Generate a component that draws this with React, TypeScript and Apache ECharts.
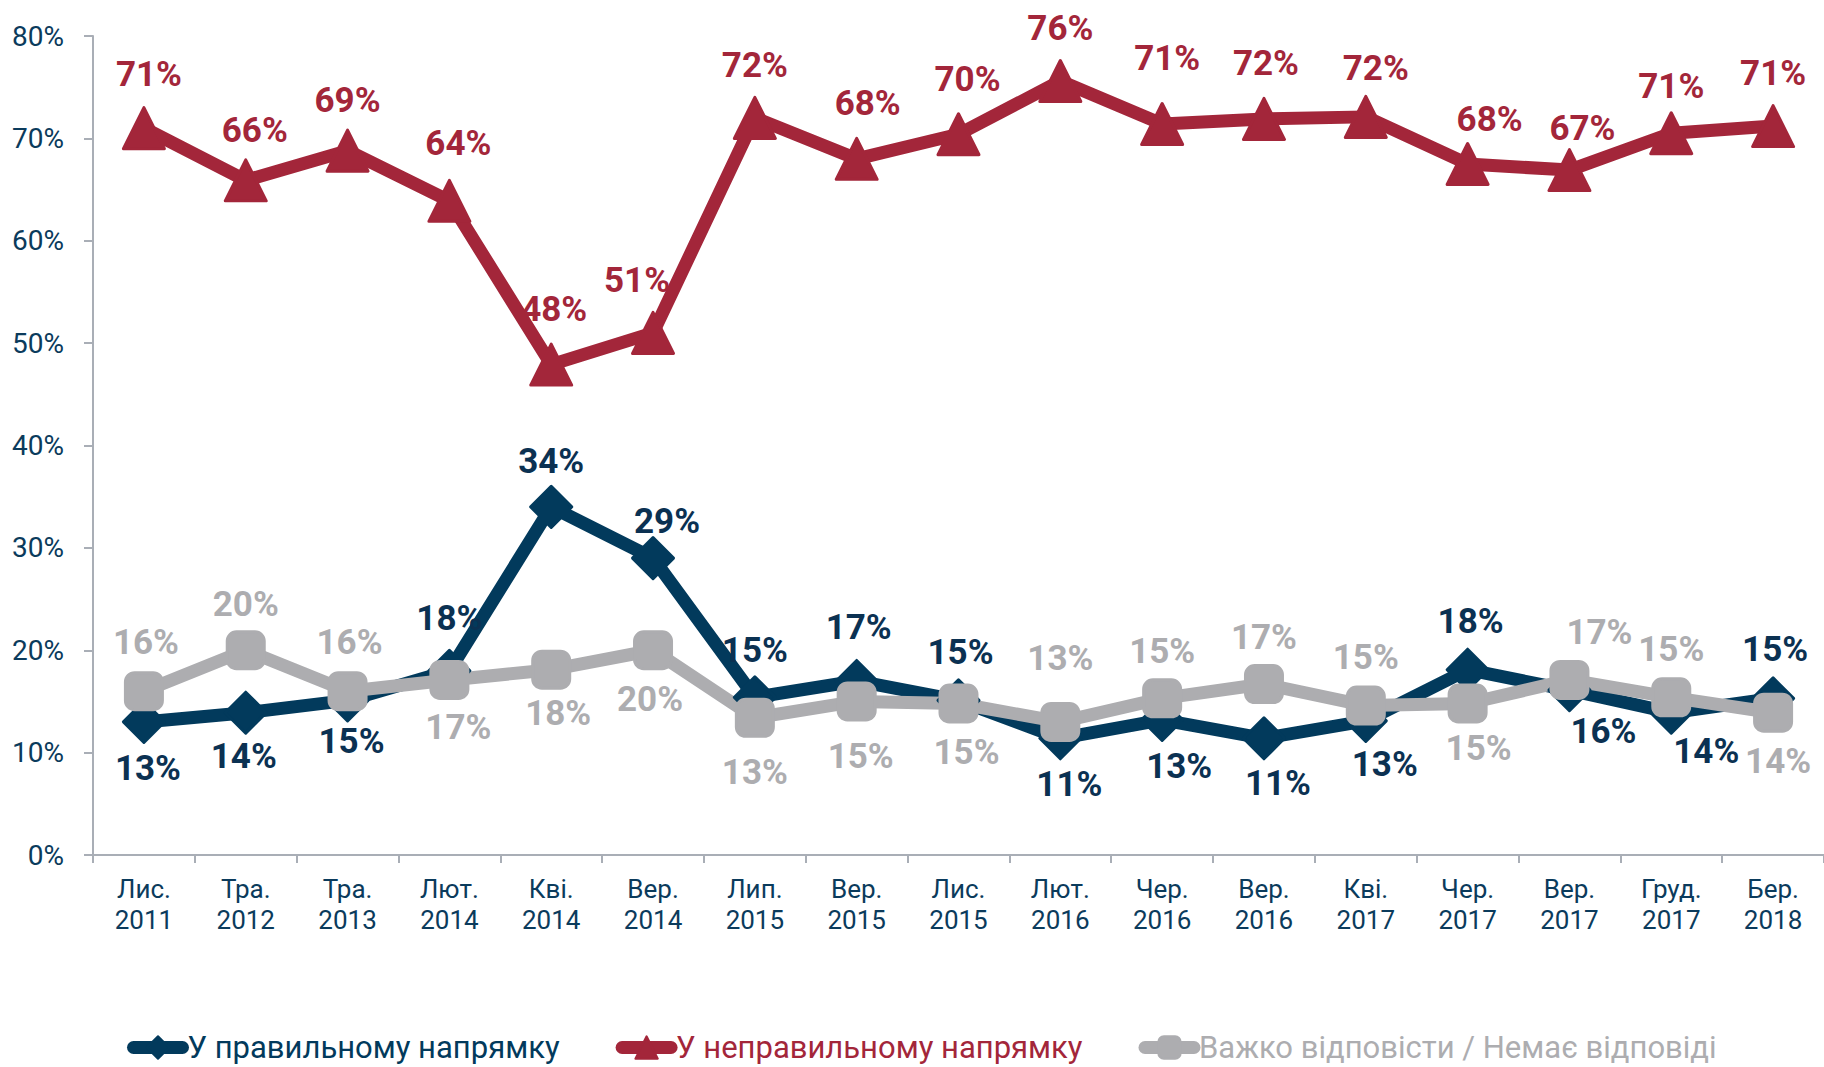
import React, { useEffect, useRef } from "react";
import * as echarts from "echarts";

const categories = [
  "Лис.\n2011", "Тра.\n2012", "Тра.\n2013", "Лют.\n2014", "Кві.\n2014", "Вер.\n2014",
  "Лип.\n2015", "Вер.\n2015", "Лис.\n2015", "Лют.\n2016", "Чер.\n2016", "Вер.\n2016",
  "Кві.\n2017", "Чер.\n2017", "Вер.\n2017", "Груд.\n2017", "Бер.\n2018",
];

const rightDirection = [13.0, 13.9, 15.1, 18.0, 34.0, 29.0, 15.4, 17.0, 15.1, 11.4, 13.2, 11.4, 13.1, 18.1, 16.1, 13.9, 15.3];
const wrongDirection = [71.0, 65.9, 68.8, 63.9, 47.9, 51.0, 72.0, 68.0, 70.4, 75.6, 71.4, 71.9, 72.1, 67.5, 66.9, 70.5, 71.2];
const hardToSay = [16.0, 20.0, 16.0, 17.1, 18.1, 20.0, 13.4, 15.0, 14.8, 13.0, 15.3, 16.7, 14.6, 14.8, 17.1, 15.4, 13.9];

const seriesNames = ["У правильному напрямку", "У неправильному напрямку", "Важко відповісти / Немає відповіді"];

const yTicks = { min: 0, max: 80, interval: 10 };

// label placement (style only): [dx, dy] from the marker centre
const rightLabelOffsets = [
  [4, 47], [-2, 44], [4, 41], [0, -52], [0, -45], [14, -37], [0, -47], [2, -53], [2, -48],
  [9, 46], [17, 47], [14, 45], [19, 44], [3, -48], [34, 41], [35, 39], [2, -49],
];
const wrongLabelOffsets = [
  [5, -54], [9, -50], [0, -50], [9, -57], [3, -55], [-16, -52], [0, -52], [11, -55], [9, -55],
  [0, -53], [5, -66], [2, -55], [10, -48], [22, -44], [13, -42], [0, -47], [0, -53],
];
const hardLabelOffsets = [
  [2, -49], [0, -46], [2, -49], [9, 48], [7, 44], [-3, 49], [0, 55], [4, 55], [8, 49],
  [0, -63], [0, -47], [0, -47], [0, -48], [11, 45], [30, -47], [0, -48], [5, 49],
];

const BLUE = "#023a5c";
const BLUE_TEXT = "#0b3152";
const RED = "#a3263a";
const GREY = "#adadb0";
const AXIS_TEXT = "#0b3b5c";
const AXIS_LINE = "#a9aeb6";
const FONT = "Roboto, 'Noto Sans', sans-serif";

function buildSeries(
  name: string,
  values: number[],
  offsets: number[][],
  color: string,
  textColor: string,
  symbol: string,
  symbolSize: number,
) {
  return {
    name,
    type: "line",
    data: values.map((v, i) => ({ value: v, label: { offset: offsets[i] } })),
    symbol,
    symbolSize,
    showAllSymbol: true,
    lineStyle: { color, width: 13, join: "round", cap: "round" },
    itemStyle: { color, borderColor: color, borderWidth: 3, borderJoin: "round" },
    label: {
      show: true,
      position: "inside",
      formatter: (p: any) => Math.round(p.value) + "%",
      fontFamily: FONT,
      fontWeight: "bold",
      fontSize: 35,
      color: textColor,
    },
    emphasis: { disabled: true },
  };
}

export default function App() {
  const ref = useRef<HTMLDivElement>(null);

  useEffect(() => {
    document.body.style.margin = "0";
    if (!ref.current) return;
    const chart = echarts.init(ref.current, undefined, { renderer: "svg" });
    chart.setOption({
      animation: false,
      backgroundColor: "#ffffff",
      grid: { left: 93, right: 0, top: 36, bottom: 212, containLabel: false },
      legend: {
        left: 122,
        top: 1027,
        itemWidth: 49,
        itemHeight: 28,
        itemGap: 56,
        itemTextGap: 3,
        lineStyle: { width: 13, cap: "round" },
        textStyle: { fontFamily: FONT, fontSize: 31 },
        data: [
          { name: seriesNames[0], textStyle: { color: BLUE } },
          { name: seriesNames[1], textStyle: { color: RED } },
          { name: seriesNames[2], textStyle: { color: GREY } },
        ],
      },
      xAxis: {
        type: "category",
        data: categories,
        boundaryGap: true,
        axisLine: { show: true, lineStyle: { color: AXIS_LINE, width: 2 } },
        axisTick: { show: true, length: 8, alignWithLabel: false, interval: 0, lineStyle: { color: AXIS_LINE, width: 2 } },
        axisLabel: {
          interval: 0,
          margin: 18,
          fontFamily: FONT,
          fontSize: 26,
          lineHeight: 31,
          color: AXIS_TEXT,
        },
        splitLine: { show: false },
      },
      yAxis: {
        type: "value",
        min: yTicks.min,
        max: yTicks.max,
        interval: yTicks.interval,
        axisLine: { show: true, lineStyle: { color: AXIS_LINE, width: 2 } },
        axisTick: { show: true, length: 9, lineStyle: { color: AXIS_LINE, width: 2 } },
        axisLabel: {
          formatter: "{value}%",
          margin: 29,
          fontFamily: FONT,
          fontSize: 28,
          color: AXIS_TEXT,
        },
        splitLine: { show: false },
      },
      series: [
        buildSeries(seriesNames[0], rightDirection, rightLabelOffsets, BLUE, BLUE_TEXT, "diamond", 41),
        buildSeries(seriesNames[1], wrongDirection, wrongLabelOffsets, RED, RED, "triangle", 41),
        buildSeries(seriesNames[2], hardToSay, hardLabelOffsets, GREY, GREY, "roundRect", 37),
      ],
    });
    return () => chart.dispose();
  }, []);

  return <div ref={ref} style={{ width: 1824, height: 1067 }} />;
}
